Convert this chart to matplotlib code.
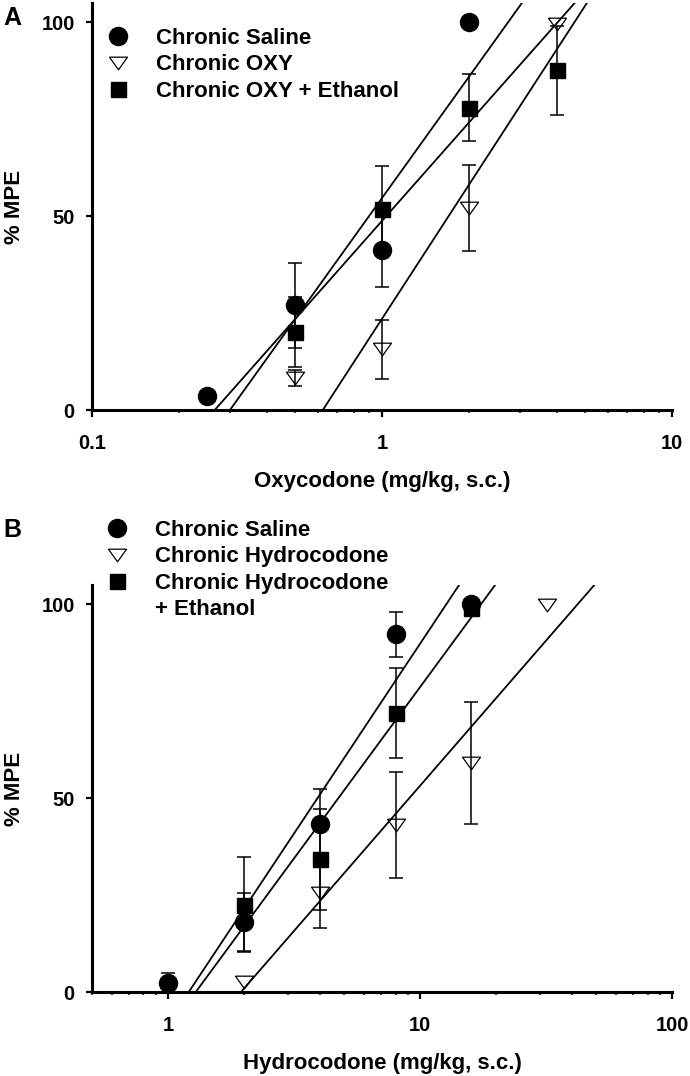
import numpy as np
import matplotlib
matplotlib.use('Agg')
import matplotlib.pyplot as plt
from matplotlib.lines import Line2D
from matplotlib.ticker import NullFormatter

plt.rcParams['font.family'] = ['Liberation Sans', 'DejaVu Sans']
plt.rcParams['font.weight'] = 'bold'
plt.rcParams['axes.labelweight'] = 'bold'
plt.rcParams['font.size'] = 14.5

### panel A - oxycodone dose response (% MPE, mean +/- SEM)
oxy_labels = ['Chronic Saline', 'Chronic OXY', 'Chronic OXY + Ethanol']

oxy_sal_dose = [0.25, 0.5, 1, 2]
oxy_sal_mpe = [3.6, 27.0, 41.3, 100]
oxy_sal_sem = [np.nan, 11.0, 9.5, np.nan]

oxy_oxy_dose = [0.5, 1, 2, 4]
oxy_oxy_mpe = [8.2, 15.7, 52.0, 99.6]
oxy_oxy_sem = [2.0, 7.6, 11.1, np.nan]

oxy_eth_dose = [0.5, 1, 2, 4]
oxy_eth_mpe = [20.2, 51.9, 78.0, 87.6]
oxy_eth_sem = [9.0, 11.0, 8.7, 11.4]

# regression lines: x intercept (mg/kg) and slope (% MPE per log unit)
oxy_line_x0 = [0.299, 0.625, 0.265]
oxy_line_slope = [104.3, 115.3, 84.6]

### panel B - hydrocodone dose response
hyd_labels = ['Chronic Saline', 'Chronic Hydrocodone', 'Chronic Hydrocodone', '+ Ethanol']

hyd_sal_dose = [1, 2, 4, 8, 16]
hyd_sal_mpe = [2.4, 18.0, 43.3, 92.3, 100]
hyd_sal_sem = [2.6, 7.5, 9.2, 5.8, np.nan]

hyd_hyd_dose = [2, 4, 8, 16, 32]
hyd_hyd_mpe = [2.7, 25.6, 43.1, 59.1, 99.8]
hyd_hyd_sem = [np.nan, 9.1, 13.6, 15.7, np.nan]

hyd_eth_dose = [2, 4, 8, 16]
hyd_eth_mpe = [22.5, 34.2, 72.0, 99.0]
hyd_eth_sem = [12.2, 13.1, 11.6, np.nan]

hyd_line_x0 = [1.21, 1.95, 1.29]
hyd_line_slope = [97.9, 74.9, 88.4]

# marker styles: circle, open down-triangle (flattened), square
tri = [(-1, 0.7), (1, 0.7), (0, -0.7), (-1, 0.7)]
styles = [dict(marker='o', ms=13, mfc='black', mec='black'),
          dict(marker=tri, ms=13, mfc='none', mec='black', mew=0.9),
          dict(marker='s', ms=10.8, mfc='black', mec='black')]

YTOP = 105
LABEL_FS = 16


def draw_panel(ax, groups, x0s, slopes, xlim, xticks, xticklabels, xlabel):
    handles = []
    for (dose, mpe, sem), st in zip(groups, styles):
        ax.errorbar(dose, mpe, yerr=sem, fmt='none', ecolor='black',
                    elinewidth=1.1, capsize=4.7, capthick=1.1, zorder=4, clip_on=False)
        h, = ax.plot(dose, mpe, linestyle='none', zorder=3, clip_on=False, **st)
        handles.append(h)
    for x0, b in zip(x0s, slopes):
        xs = np.array([x0, x0 * 10 ** (1.2 * YTOP / b)])
        ys = b * np.log10(xs / x0)
        ax.plot(xs, ys, color='black', lw=1.3, zorder=2)

    ax.set_xscale('log')
    ax.set_xlim(*xlim)
    ax.set_ylim(0, YTOP)
    ax.set_xticks(xticks)
    ax.set_xticklabels(xticklabels)
    ax.xaxis.set_minor_formatter(NullFormatter())
    ax.set_yticks([0, 50, 100])
    for s in ['top', 'right']:
        ax.spines[s].set_visible(False)
    for s in ['left', 'bottom']:
        ax.spines[s].set_linewidth(2.2)
    ax.tick_params(axis='x', which='major', length=5, width=1.6, pad=12.5)
    ax.tick_params(axis='x', which='minor', length=2.5, width=1.1)
    ax.tick_params(axis='y', which='major', length=4.5, width=1.6, pad=8)
    ax.set_xlabel(xlabel, fontsize=LABEL_FS)
    ax.set_ylabel('% MPE', fontsize=LABEL_FS)
    ax.xaxis.set_label_coords(0.5, -0.15)
    ax.yaxis.set_label_coords(-0.115, 0.5)
    return handles


fig = plt.figure(figsize=(6.9, 10.76), dpi=100)
W, H = 690.0, 1076.0

axA = fig.add_axes([92 / W, 1 - 410 / H, 580 / W, 407 / H])
hA = draw_panel(axA,
                [(oxy_sal_dose, oxy_sal_mpe, oxy_sal_sem),
                 (oxy_oxy_dose, oxy_oxy_mpe, oxy_oxy_sem),
                 (oxy_eth_dose, oxy_eth_mpe, oxy_eth_sem)],
                oxy_line_x0, oxy_line_slope, (0.1, 10),
                [0.1, 1, 10], ['0.1', '1', '10'], 'Oxycodone (mg/kg, s.c.)')

axB = fig.add_axes([92 / W, 1 - 992 / H, 580 / W, 407 / H])
hB = draw_panel(axB,
                [(hyd_sal_dose, hyd_sal_mpe, hyd_sal_sem),
                 (hyd_hyd_dose, hyd_hyd_mpe, hyd_hyd_sem),
                 (hyd_eth_dose, hyd_eth_mpe, hyd_eth_sem)],
                hyd_line_x0, hyd_line_slope, (0.5, 100),
                [1, 10, 100], ['1', '10', '100'], 'Hydrocodone (mg/kg, s.c.)')

# legends (frameless, anchored in figure pixels)
leg_kw = dict(loc='upper left', frameon=False, bbox_transform=fig.transFigure,
              borderpad=0, borderaxespad=0, handlelength=1.0, handletextpad=1.2,
              labelspacing=0.24, fontsize=LABEL_FS)
legA = fig.legend(hA, oxy_labels, bbox_to_anchor=(107 / W, 1 - 28 / H), **leg_kw)

blank = Line2D([], [], linestyle='none', marker='none')
legB = fig.legend(hB + [blank], hyd_labels, bbox_to_anchor=(106 / W, 1 - 520 / H), **leg_kw)

fig.text(3 / W, 1 - 18 / H, 'A', fontsize=18, fontweight='bold', va='center', ha='left')
fig.text(3 / W, 1 - 530 / H, 'B', fontsize=18, fontweight='bold', va='center', ha='left')

fig.savefig('out.png', dpi=100)
